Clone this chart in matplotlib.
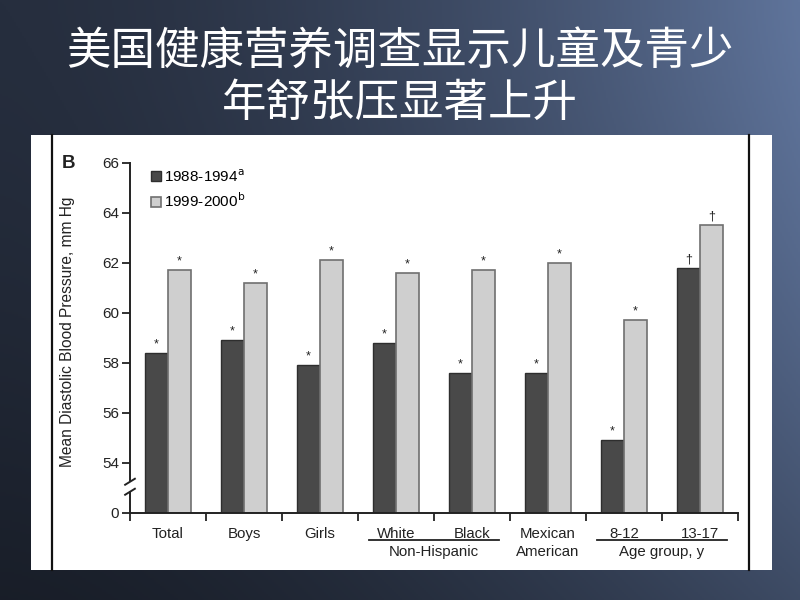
import numpy as np
import matplotlib
matplotlib.use("Agg")
import matplotlib.pyplot as plt
from matplotlib.patches import Rectangle

plt.rcParams['font.family'] = ['Liberation Sans', 'DejaVu Sans']

# ---- data ----
categories = ['Total', 'Boys', 'Girls', 'White', 'Black', 'Mexican', '8-12', '13-17']
dbp_1988 = [58.4, 58.9, 57.9, 58.8, 57.6, 57.6, 54.9, 61.8]
dbp_1999 = [61.7, 61.2, 62.1, 61.6, 61.7, 62.0, 59.7, 63.5]
marks_1988 = ['*', '*', '*', '*', '*', '*', '*', '\u2020']
marks_1999 = ['*', '*', '*', '*', '*', '*', '*', '\u2020']
ytick_vals = [52, 54, 56, 58, 60, 62, 64, 66]
ytick_labels = ['0', '54', '56', '58', '60', '62', '64', '66']
title_lines = ['美国健康营养调查显示儿童及青少', '年舒张压显著上升']

fig = plt.figure(figsize=(8, 6), dpi=100)

# slide background gradient
bg = fig.add_axes([0, 0, 1, 1], zorder=-10)
gx = np.linspace(0, 1, 400)[None, :, None]
gy = np.linspace(0, 1, 300)[:, None, None]
dark = np.array([38, 46, 62]) / 255
light = np.array([95, 116, 155]) / 255
img = dark + (light - dark) * gx ** 1.6
img = img * (1 - 0.35 * gy ** 1.5)
bg.imshow(np.clip(img, 0, 1), aspect='auto', extent=[0, 1, 0, 1])
bg.set_axis_off()

# title
for i, line in enumerate(title_lines):
    fig.text(0.5, 1 - (52 + 51 * i) / 600, line, ha='center', va='center',
             color='white', fontsize=32, family=['Noto Sans CJK SC', 'DejaVu Sans'])

# white panel with the two dark side rules
fig.patches.append(Rectangle((31 / 800, 1 - 570 / 600), 741 / 800, 435 / 600,
                             transform=fig.transFigure, facecolor='white',
                             edgecolor='none', zorder=-5))
for xp in (52, 749):
    fig.lines.append(plt.Line2D([xp / 800, xp / 800], [1 - 570 / 600, 1 - 135 / 600],
                                transform=fig.transFigure, color='#111111', lw=1.6))

ax = fig.add_axes([130 / 800, 1 - 513 / 600, 608 / 800, 350 / 600])
ax.set_facecolor('none')

x = np.arange(len(categories)) + 0.5
w = 0.3
base = 52
ax.bar(x - w / 2, np.array(dbp_1988) - base, w, bottom=base, color='#494949',
       edgecolor='#2e2e2e', lw=1.0, label='1988-1994$^{\\mathrm{a}}$')
ax.bar(x + w / 2, np.array(dbp_1999) - base, w, bottom=base, color='#cfcfcf',
       edgecolor='#707070', lw=1.2, label='1999-2000$^{\\mathrm{b}}$')

for xs, vals, mks in ((x - w / 2, dbp_1988, marks_1988), (x + w / 2, dbp_1999, marks_1999)):
    for xi, v, m in zip(xs, vals, mks):
        ax.annotate(m, (xi, v), xytext=(0, 2), textcoords='offset points',
                    ha='center', va='bottom', fontsize=9, color='#222222')

ax.set_xlim(0, len(categories))
ax.set_ylim(base, 66)
ax.set_yticks(ytick_vals, ytick_labels)
ax.set_xticks(x, categories)
ax.set_xticks(np.arange(len(categories) + 1), minor=True)
ax.tick_params(axis='x', which='major', length=0, pad=10, labelsize=10.8, colors='#222222')
ax.tick_params(axis='x', which='minor', length=6, width=1.3, direction='out', color='#222222')
ax.tick_params(axis='y', length=6, width=1.3, direction='out', labelsize=11,
               colors='#222222', pad=2)
for s in ('top', 'right'):
    ax.spines[s].set_visible(False)
ax.spines['bottom'].set_linewidth(1.4)
ax.spines['bottom'].set_color('#222222')
ax.spines['left'].set_linewidth(1.4)
ax.spines['left'].set_color('#222222')
ax.spines['left'].set_bounds(53.3, 66)

# lower axis piece and break marks
ytr = ax.get_yaxis_transform()
ax.plot([0, 0], [base, 52.85], transform=ytr, color='#222222', lw=1.4, clip_on=False)
for yb in (52.85, 53.25):
    ax.plot([-0.008, 0.008], [yb - 0.12, yb + 0.12], transform=ytr, color='#222222',
            lw=1.4, clip_on=False)

# group labels under the axis
xtr = ax.get_xaxis_transform()
for lo, hi, name in ((3, 4, 'Non-Hispanic'), (6, 7, 'Age group, y')):
    ax.plot([x[lo] - 0.35, x[hi] + 0.35], [-27 / 350, -27 / 350], transform=xtr,
            color='#222222', lw=1.3, clip_on=False)
    ax.text((x[lo] + x[hi]) / 2, -39 / 350, name, transform=xtr, ha='center',
            va='center', fontsize=10.8, color='#222222')
ax.text(x[5], -39 / 350, 'American', transform=xtr, ha='center', va='center',
        fontsize=10.8, color='#222222')

ax.legend(loc='upper left', bbox_to_anchor=(0.012, 1.025), frameon=False,
          handlelength=0.65, handleheight=0.65, handletextpad=0.2, labelspacing=0.45,
          fontsize=11)

fig.text(62 / 800, 1 - 164 / 600, 'B', ha='left', va='center', fontsize=13.5,
         fontweight='bold', color='#222222')
fig.text(68 / 800, 1 - 332 / 600, 'Mean Diastolic Blood Pressure, mm Hg',
         rotation=90, ha='center', va='center', fontsize=11.2, color='#222222')

fig.savefig('out.png', dpi=100)
